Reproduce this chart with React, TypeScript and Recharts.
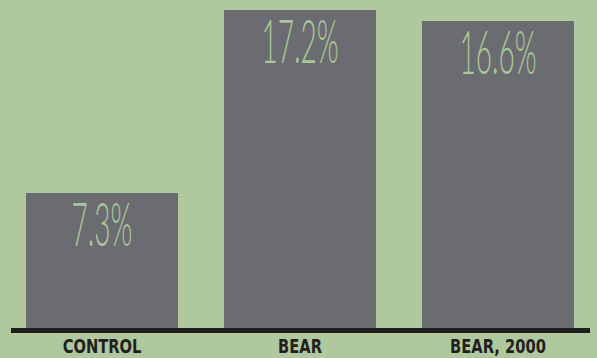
import { BarChart, Bar, XAxis, YAxis, ReferenceLine, LabelList } from "recharts";

const categories = ["CONTROL", "BEAR", "BEAR, 2000"];
const rates = [7.3, 17.2, 16.6];

const data = categories.map((name, i) => ({ name, rate: rates[i] }));

const BG = "#afc89e";
const BAR = "#6b6c71";
const LABEL = "#a9c797";

// thin condensed percentage label sitting near the top of each bar
const ValueLabel = (props: any) => {
  const { x, y, width, value } = props;
  const cx = x + width / 2;
  return (
    <text
      transform={`translate(${cx}, ${y + 53}) scale(0.46, 1)`}
      textAnchor="middle"
      fill={LABEL}
      fontFamily="Lato, 'Open Sans', sans-serif"
      fontWeight={300}
      fontSize={61}
    >
      {value}%
    </text>
  );
};

const CategoryTick = (props: any) => {
  const { x, y, payload } = props;
  return (
    <text
      transform={`translate(${x}, ${y + 17}) scale(0.86, 1)`}
      textAnchor="middle"
      fill="#231f20"
      fontFamily="'Liberation Sans Narrow', 'DejaVu Sans Condensed', sans-serif"
      fontWeight={700}
      fontSize={19}
    >
      {payload.value}
    </text>
  );
};

const Baseline = (props: any) => {
  const { x1, x2, y1 } = props;
  return <line x1={x1 + 8} x2={x2 - 7} y1={y1 + 2.5} y2={y1 + 2.5} stroke="#1e1e1e" strokeWidth={5} />;
};

const App = () => {
  return (
    <div style={{ position: "absolute", top: 0, left: 0, width: 597, height: 358, background: BG }}>
      <BarChart
        width={597}
        height={358}
        data={data}
        margin={{ top: 10, right: 0, bottom: 0, left: 3 }}
        barCategoryGap={23}
      >
        <XAxis
          dataKey="name"
          axisLine={false}
          tickLine={false}
          height={30}
          tick={<CategoryTick />}
          interval={0}
        />
        <YAxis hide domain={[0, 17.2]} />
        <Bar dataKey="rate" fill={BAR} isAnimationActive={false}>
          <LabelList dataKey="rate" content={<ValueLabel />} />
        </Bar>
        <ReferenceLine y={0} shape={<Baseline />} />
      </BarChart>
    </div>
  );
};

export default App;
